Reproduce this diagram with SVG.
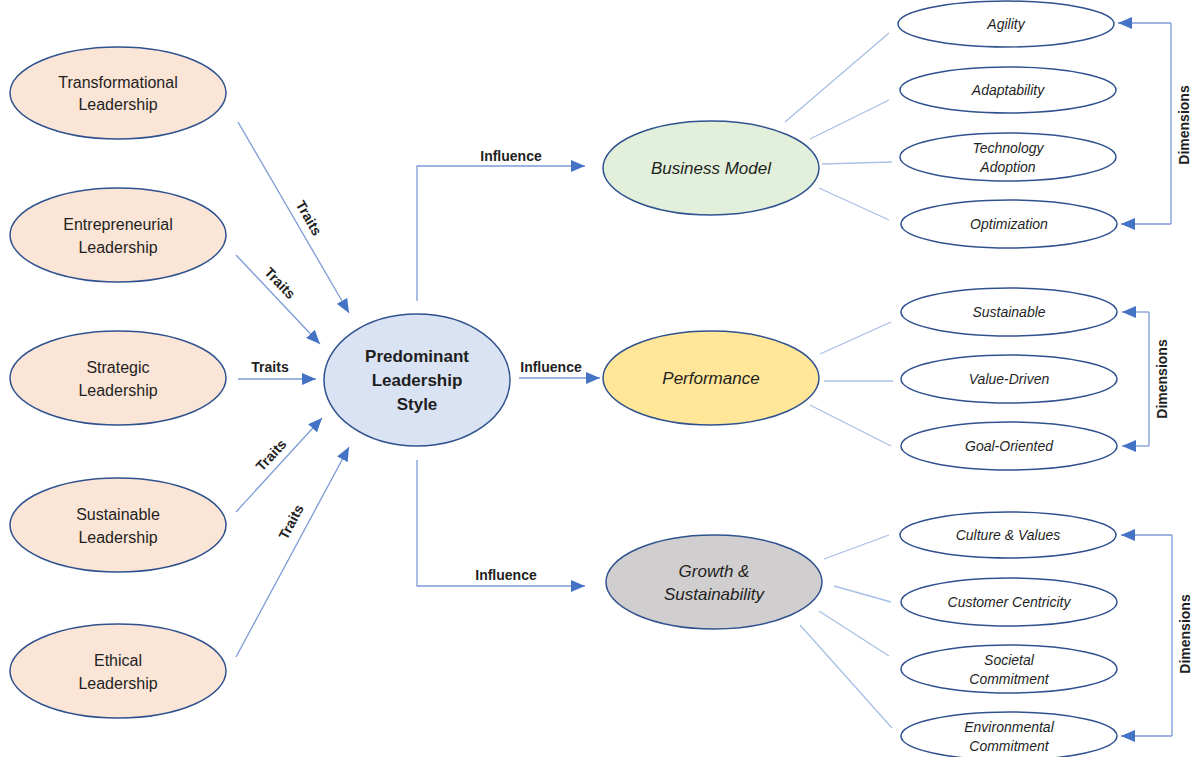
<svg xmlns="http://www.w3.org/2000/svg" width="1198" height="757" viewBox="0 0 1198 757">
  <defs>
    <marker id="arrow" viewBox="0 0 14 12" markerWidth="14" markerHeight="12" refX="14" refY="6" orient="auto" markerUnits="userSpaceOnUse">
      <path d="M0,0 L14,6 L0,12 Z" fill="#4472c4"/>
    </marker>
    <style>
      .lead { fill: #fbe5d6; stroke: #2f528f; stroke-width: 1.5; }
      .core { fill: #dae3f3; stroke: #2f528f; stroke-width: 1.5; }
      .dim { fill: #ffffff; stroke: #2f528f; stroke-width: 1.5; }
      .txt { font-family: "Liberation Sans", Arial, sans-serif; fill: #1f1f1f; text-anchor: middle; dominant-baseline: central; }
      .lbl { font-size: 16px; }
      .ital { font-style: italic; font-size: 14px; }
      .big { font-style: italic; font-size: 17px; }
      .bold { font-weight: bold; font-size: 14px; }
      .arr { stroke: #7c9bd6; stroke-width: 1.3; fill: none; marker-end: url(#arrow); }
      .link { stroke: #a9bfe6; stroke-width: 1.3; fill: none; }
      .brk { stroke: #7c9bd6; stroke-width: 1.3; fill: none; }
    </style>
  </defs>
  <rect width="1198" height="757" fill="#ffffff"/>

  <!-- connectors -->
  <g id="connectors">
    <!-- traits into the core style -->
    <line class="arr" x1="238" y1="122" x2="349" y2="313"/>
    <line class="arr" x1="236" y1="255" x2="320" y2="344"/>
    <line class="arr" x1="238" y1="379" x2="316" y2="379"/>
    <line class="arr" x1="236" y1="512" x2="322" y2="418"/>
    <line class="arr" x1="236" y1="657" x2="349" y2="447"/>
    <text class="txt bold" transform="translate(309,218) rotate(60)">Traits</text>
    <text class="txt bold" transform="translate(280,283) rotate(46)">Traits</text>
    <text class="txt bold" x="270" y="367">Traits</text>
    <text class="txt bold" transform="translate(271,455) rotate(-47)">Traits</text>
    <text class="txt bold" transform="translate(291,522) rotate(-62)">Traits</text>

    <!-- influence -->
    <polyline class="arr" points="417,301 417,166 585,166"/>
    <line class="arr" x1="519" y1="378" x2="600" y2="378"/>
    <polyline class="arr" points="417,460 417,586 585,586"/>
    <text class="txt bold" x="511" y="156">Influence</text>
    <text class="txt bold" x="551" y="367">Influence</text>
    <text class="txt bold" x="506" y="575">Influence</text>

    <!-- outcome to dimensions -->
    <line class="link" x1="785" y1="122" x2="889" y2="33"/>
    <line class="link" x1="810" y1="139" x2="889" y2="100"/>
    <line class="link" x1="822" y1="164" x2="892" y2="162"/>
    <line class="link" x1="819" y1="188" x2="889" y2="220"/>

    <line class="link" x1="820" y1="354" x2="891" y2="322"/>
    <line class="link" x1="824" y1="381" x2="893" y2="381"/>
    <line class="link" x1="810" y1="405" x2="891" y2="446"/>

    <line class="link" x1="824" y1="559" x2="889" y2="535"/>
    <line class="link" x1="834" y1="586" x2="891" y2="602"/>
    <line class="link" x1="819" y1="611" x2="889" y2="656"/>
    <line class="link" x1="800" y1="625" x2="892" y2="728"/>

    <!-- dimension brackets -->
    <polyline class="brk" points="1171,23 1171,224"/>
    <line class="arr" x1="1171" y1="23" x2="1118" y2="23"/>
    <line class="arr" x1="1171" y1="224" x2="1121" y2="224"/>
    <text class="txt bold" transform="translate(1184,125) rotate(-90)">Dimensions</text>

    <polyline class="brk" points="1149,312 1149,446"/>
    <line class="arr" x1="1149" y1="312" x2="1122" y2="312"/>
    <line class="arr" x1="1149" y1="446" x2="1122" y2="446"/>
    <text class="txt bold" transform="translate(1162,379) rotate(-90)">Dimensions</text>

    <polyline class="brk" points="1172,535 1172,736"/>
    <line class="arr" x1="1172" y1="535" x2="1121" y2="535"/>
    <line class="arr" x1="1172" y1="736" x2="1121" y2="736"/>
    <text class="txt bold" transform="translate(1185,634) rotate(-90)">Dimensions</text>
  </g>

  <!-- leadership styles -->
  <g id="transformational">
    <ellipse class="lead" cx="118" cy="93" rx="108" ry="46"/>
    <text class="txt lbl" x="118" y="82">Transformational</text>
    <text class="txt lbl" x="118" y="104">Leadership</text>
  </g>
  <g id="entrepreneurial">
    <ellipse class="lead" cx="118" cy="235" rx="108" ry="47"/>
    <text class="txt lbl" x="118" y="224">Entrepreneurial</text>
    <text class="txt lbl" x="118" y="247">Leadership</text>
  </g>
  <g id="strategic">
    <ellipse class="lead" cx="118" cy="378" rx="108" ry="47"/>
    <text class="txt lbl" x="118" y="367">Strategic</text>
    <text class="txt lbl" x="118" y="390">Leadership</text>
  </g>
  <g id="sustainable-leadership">
    <ellipse class="lead" cx="118" cy="525" rx="108" ry="47"/>
    <text class="txt lbl" x="118" y="514">Sustainable</text>
    <text class="txt lbl" x="118" y="537">Leadership</text>
  </g>
  <g id="ethical">
    <ellipse class="lead" cx="118" cy="671" rx="108" ry="47"/>
    <text class="txt lbl" x="118" y="660">Ethical</text>
    <text class="txt lbl" x="118" y="683">Leadership</text>
  </g>

  <!-- core style -->
  <g id="predominant">
    <ellipse class="core" cx="417" cy="380" rx="93" ry="66"/>
    <text class="txt" x="417" y="356" style="font-weight:bold;font-size:17px">Predominant</text>
    <text class="txt" x="417" y="380" style="font-weight:bold;font-size:17px">Leadership</text>
    <text class="txt" x="417" y="404" style="font-weight:bold;font-size:17px">Style</text>
  </g>

  <!-- outcomes -->
  <g id="business-model">
    <ellipse cx="711" cy="168" rx="108" ry="47" fill="#e2efda" stroke="#2f528f" stroke-width="1.5"/>
    <text class="txt big" x="711" y="168">Business Model</text>
  </g>
  <g id="performance">
    <ellipse cx="711" cy="378" rx="108" ry="47" fill="#ffe699" stroke="#2f528f" stroke-width="1.5"/>
    <text class="txt big" x="711" y="378">Performance</text>
  </g>
  <g id="growth">
    <ellipse cx="714" cy="582" rx="108" ry="47" fill="#d0cece" stroke="#2f528f" stroke-width="1.5"/>
    <text class="txt big" x="714" y="571">Growth &amp;</text>
    <text class="txt big" x="714" y="594">Sustainability</text>
  </g>

  <!-- business model dimensions -->
  <g id="agility">
    <ellipse class="dim" cx="1006" cy="24" rx="108" ry="23"/>
    <text class="txt ital" x="1006" y="24">Agility</text>
  </g>
  <g id="adaptability">
    <ellipse class="dim" cx="1008" cy="90" rx="108" ry="23"/>
    <text class="txt ital" x="1008" y="90">Adaptability</text>
  </g>
  <g id="technology-adoption">
    <ellipse class="dim" cx="1008" cy="157" rx="108" ry="24"/>
    <text class="txt ital" x="1008" y="148">Technology</text>
    <text class="txt ital" x="1008" y="167">Adoption</text>
  </g>
  <g id="optimization">
    <ellipse class="dim" cx="1009" cy="224" rx="108" ry="24"/>
    <text class="txt ital" x="1009" y="224">Optimization</text>
  </g>

  <!-- performance dimensions -->
  <g id="sustainable">
    <ellipse class="dim" cx="1009" cy="312" rx="108" ry="24"/>
    <text class="txt ital" x="1009" y="312">Sustainable</text>
  </g>
  <g id="value-driven">
    <ellipse class="dim" cx="1009" cy="379" rx="108" ry="24"/>
    <text class="txt ital" x="1009" y="379">Value-Driven</text>
  </g>
  <g id="goal-oriented">
    <ellipse class="dim" cx="1009" cy="446" rx="108" ry="24"/>
    <text class="txt ital" x="1009" y="446">Goal-Oriented</text>
  </g>

  <!-- growth dimensions -->
  <g id="culture-values">
    <ellipse class="dim" cx="1008" cy="535" rx="108" ry="23"/>
    <text class="txt ital" x="1008" y="535">Culture &amp; Values</text>
  </g>
  <g id="customer-centricity">
    <ellipse class="dim" cx="1009" cy="602" rx="108" ry="24"/>
    <text class="txt ital" x="1009" y="602">Customer Centricity</text>
  </g>
  <g id="societal-commitment">
    <ellipse class="dim" cx="1009" cy="669" rx="108" ry="24"/>
    <text class="txt ital" x="1009" y="660">Societal</text>
    <text class="txt ital" x="1009" y="679">Commitment</text>
  </g>
  <g id="environmental-commitment">
    <ellipse class="dim" cx="1009" cy="736" rx="108" ry="24"/>
    <text class="txt ital" x="1009" y="727">Environmental</text>
    <text class="txt ital" x="1009" y="746">Commitment</text>
  </g>
</svg>
